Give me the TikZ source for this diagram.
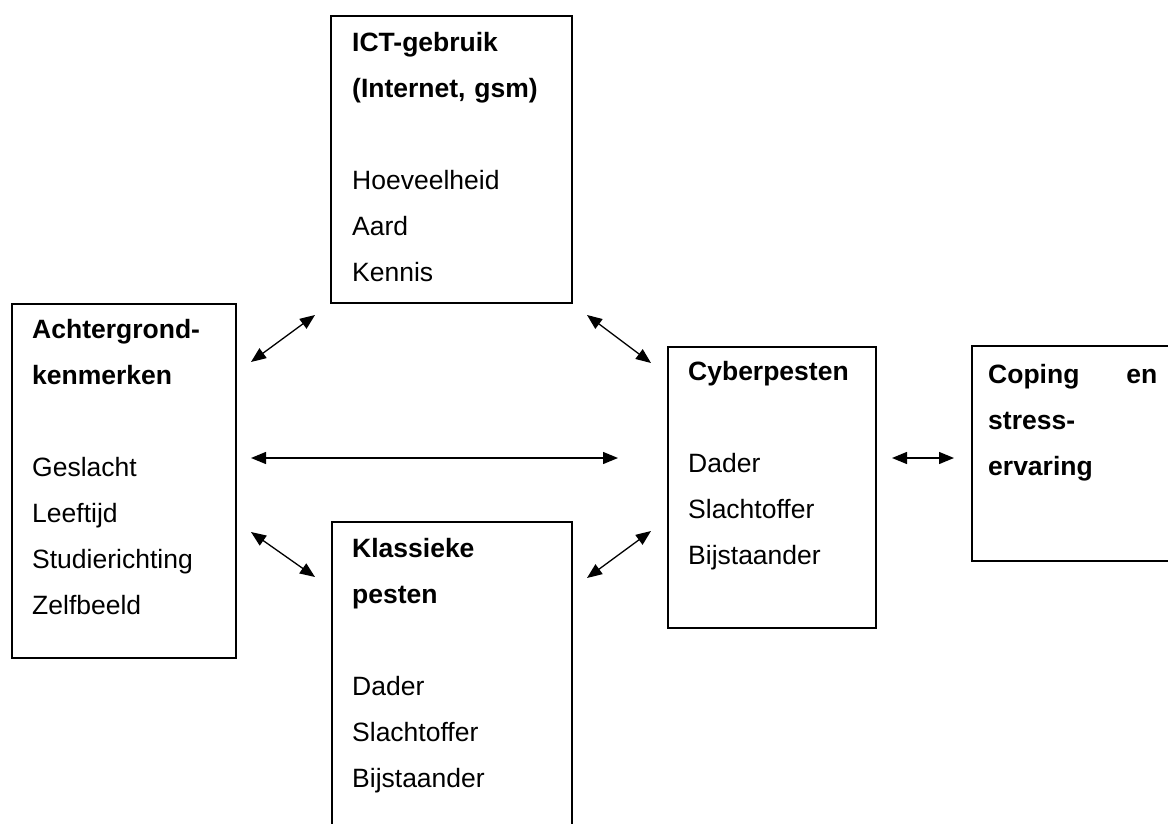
\documentclass[tikz,border=0pt]{standalone}
\usepackage{fontspec}
\setmainfont{Liberation Sans}
\usetikzlibrary{arrows.meta,positioning}

\tikzset{
	kader/.style={draw, line width=1.6pt, anchor=north west, inner sep=0pt},
	tekst/.style={anchor=base west, align=left, text width=#1, inner sep=0pt,
		font=\fontsize{26.5}{46}\selectfont},
	pijl/.style={{Triangle[length=15pt,width=12pt]}-{Triangle[length=15pt,width=12pt]}, line width=1.3pt},
}

\begin{document}
\begin{tikzpicture}[x=1pt,y=1pt]
		\useasboundingbox (0,0) rectangle (1168,-824);
		\clip (0,0) rectangle (1168,-824);
	
		% kaders
		\node[kader, minimum width=241pt, minimum height=287pt] (ict) at (330,-15) {};
		\node[kader, minimum width=224pt, minimum height=354pt] (acht) at (11,-303) {};
		\node[kader, minimum width=240pt, minimum height=340pt] (klas) at (331,-521) {};
		\node[kader, minimum width=208pt, minimum height=281pt] (cyber) at (667,-346) {};
		\node[kader, minimum width=230pt, minimum height=215pt] (coping) at (971,-345) {};
		
		% teksten
		\node[tekst=210pt] (ictT) at ([shift={(22,-37)}]ict.north west)
			{\textbf{ICT-gebruik}\\ \textbf{(Internet, gsm)}\\[46pt] Hoeveelheid\\ Aard\\ Kennis};
		\node[tekst=200pt] (achtT) at ([shift={(21,-35)}]acht.north west)
			{\textbf{Achtergrond-}\\ \textbf{kenmerken}\\[46pt] Geslacht\\ Leeftijd\\ Studierichting\\ Zelfbeeld};
		\node[tekst=210pt] (klasT) at ([shift={(21,-36)}]klas.north west)
			{\textbf{Klassieke}\\ \textbf{pesten}\\[46pt] Dader\\ Slachtoffer\\ Bijstaander};
		\node[tekst=180pt] (cyberT) at ([shift={(21,-34)}]cyber.north west)
			{\textbf{Cyberpesten}\\[46pt] Dader\\ Slachtoffer\\ Bijstaander};
		\node[tekst=169pt] (copingT) at ([shift={(17,-38)}]coping.north west)
			{\textbf{Coping}\hfill\textbf{en}\\ \textbf{stress-}\\ \textbf{ervaring}};
		
		% pijlen
		\coordinate (achtNO) at (251,-362);
		\coordinate (ictZW) at (315,-315);
		\coordinate (ictZO) at (587,-315);
		\coordinate (cyberNW) at (651,-363);
		\coordinate (achtO) at (251,-458);
		\coordinate (cyberW) at (618,-458);
		\coordinate (achtZO) at (251,-532);
		\coordinate (klasNW) at (315,-577);
		\coordinate (klasNO) at (587,-578);
		\coordinate (cyberZW) at (651,-531);
		\coordinate (cyberO) at (892,-458);
		\coordinate (copingW) at (954,-458);
		
		\draw[pijl] (achtNO) -- (ictZW);
		\draw[pijl] (ictZO) -- (cyberNW);
		\draw[pijl] (achtO) -- (cyberW);
		\draw[pijl] (achtZO) -- (klasNW);
		\draw[pijl] (klasNO) -- (cyberZW);
		\draw[pijl] (cyberO) -- (copingW);
	
	\end{tikzpicture}
\end{document}
